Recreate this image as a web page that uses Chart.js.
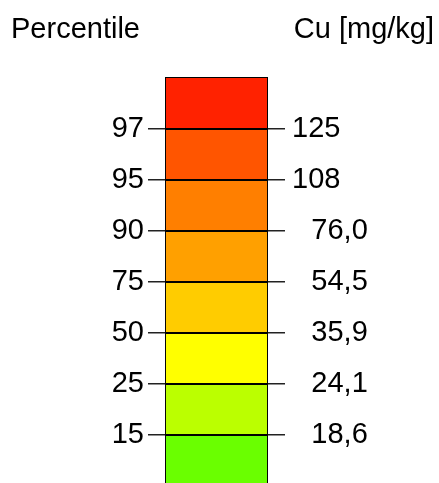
<!DOCTYPE html>
<html>
<head>
<meta charset="utf-8">
<script src="https://cdn.jsdelivr.net/npm/chart.js@4.4.1/dist/chart.umd.min.js"></script>
<style>
  html, body { margin: 0; padding: 0; background: #fff; overflow: hidden; }
  canvas { display: block; }
</style>
</head>
<body>
<canvas id="legendChart" width="439" height="483"></canvas>
<script>
// class boundaries, bottom to top
const percentiles = ["15", "25", "50", "75", "90", "95", "97"];
const cuValues = ["18,6", "24,1", "35,9", "54,5", "76,0", "108", "125"];
// one colour per class, bottom to top
const bandColors = ["#6aff00", "#bbff00", "#ffff00", "#ffcc00", "#ffa000", "#ff7f00", "#ff5500", "#ff2200"];

const FONT = "'Liberation Sans', Arial, sans-serif";
const yMin = 0.06;
const yMax = 8.02;

// each band sits between two boundaries (boundary k is at position k+1)
const datasets = bandColors.map((c, i) => ({
    data: [[i, i === bandColors.length - 1 ? yMax : i + 1]],
    backgroundColor: c,
    borderColor: "#000",
    borderWidth: 1,
    borderSkipped: false,
    categoryPercentage: 1,
    barPercentage: 0.752
}));

function boundaryTicks(scale) {
    scale.ticks = percentiles.map((p, i) => ({ value: i + 1 }));
}

const headerPlugin = {
    id: "header",
    afterDraw(chart) {
        const ctx = chart.ctx;
        ctx.save();
        ctx.fillStyle = "#000";
        ctx.font = "29px " + FONT;
        ctx.textBaseline = "alphabetic";
        ctx.textAlign = "left";
        ctx.fillText("Percentile", 11, 38);
        ctx.textAlign = "right";
        ctx.fillText("Cu [mg/kg]", 434, 38);
        ctx.restore();
    }
};

new Chart(document.getElementById("legendChart"), {
    type: "bar",
    data: { labels: ["Cu"], datasets: datasets },
    options: {
        responsive: false,
        animation: false,
        devicePixelRatio: 1,
        layout: { padding: { top: 77, bottom: 0, left: 0, right: 0 } },
        plugins: {
            legend: { display: false },
            tooltip: { enabled: false }
        },
        scales: {
            x: { display: false, stacked: true },
            y: {
                position: "left",
                stacked: false,
                min: yMin,
                max: yMax,
                afterBuildTicks: boundaryTicks,
                afterFit(scale) {
                    scale.width = 148;
                    scale.paddingTop = 0;
                    scale.paddingBottom = 0;
                },
                border: { display: false },
                grid: { drawTicks: false, color: "#222", lineWidth: 1.5 },
                ticks: {
                    padding: 4,
                    color: "#000",
                    font: { size: 29, family: FONT },
                    callback: (v, i) => percentiles[i]
                }
            },
            y2: {
                position: "right",
                stacked: false,
                min: yMin,
                max: yMax,
                afterBuildTicks: boundaryTicks,
                afterFit(scale) {
                    scale.width = 154;
                    scale.paddingTop = 0;
                    scale.paddingBottom = 0;
                },
                border: { display: false },
                grid: { display: false, drawTicks: false },
                ticks: {
                    padding: 7,
                    color: "#000",
                    font: { size: 29, family: FONT },
                    // values below 100 are shifted right, as in the source legend
                    callback: (v, i) => (cuValues[i].includes(",") ? "\u2002\u2006" : "") + cuValues[i]
                }
            }
        }
    },
    plugins: [headerPlugin]
});
</script>
</body>
</html>
